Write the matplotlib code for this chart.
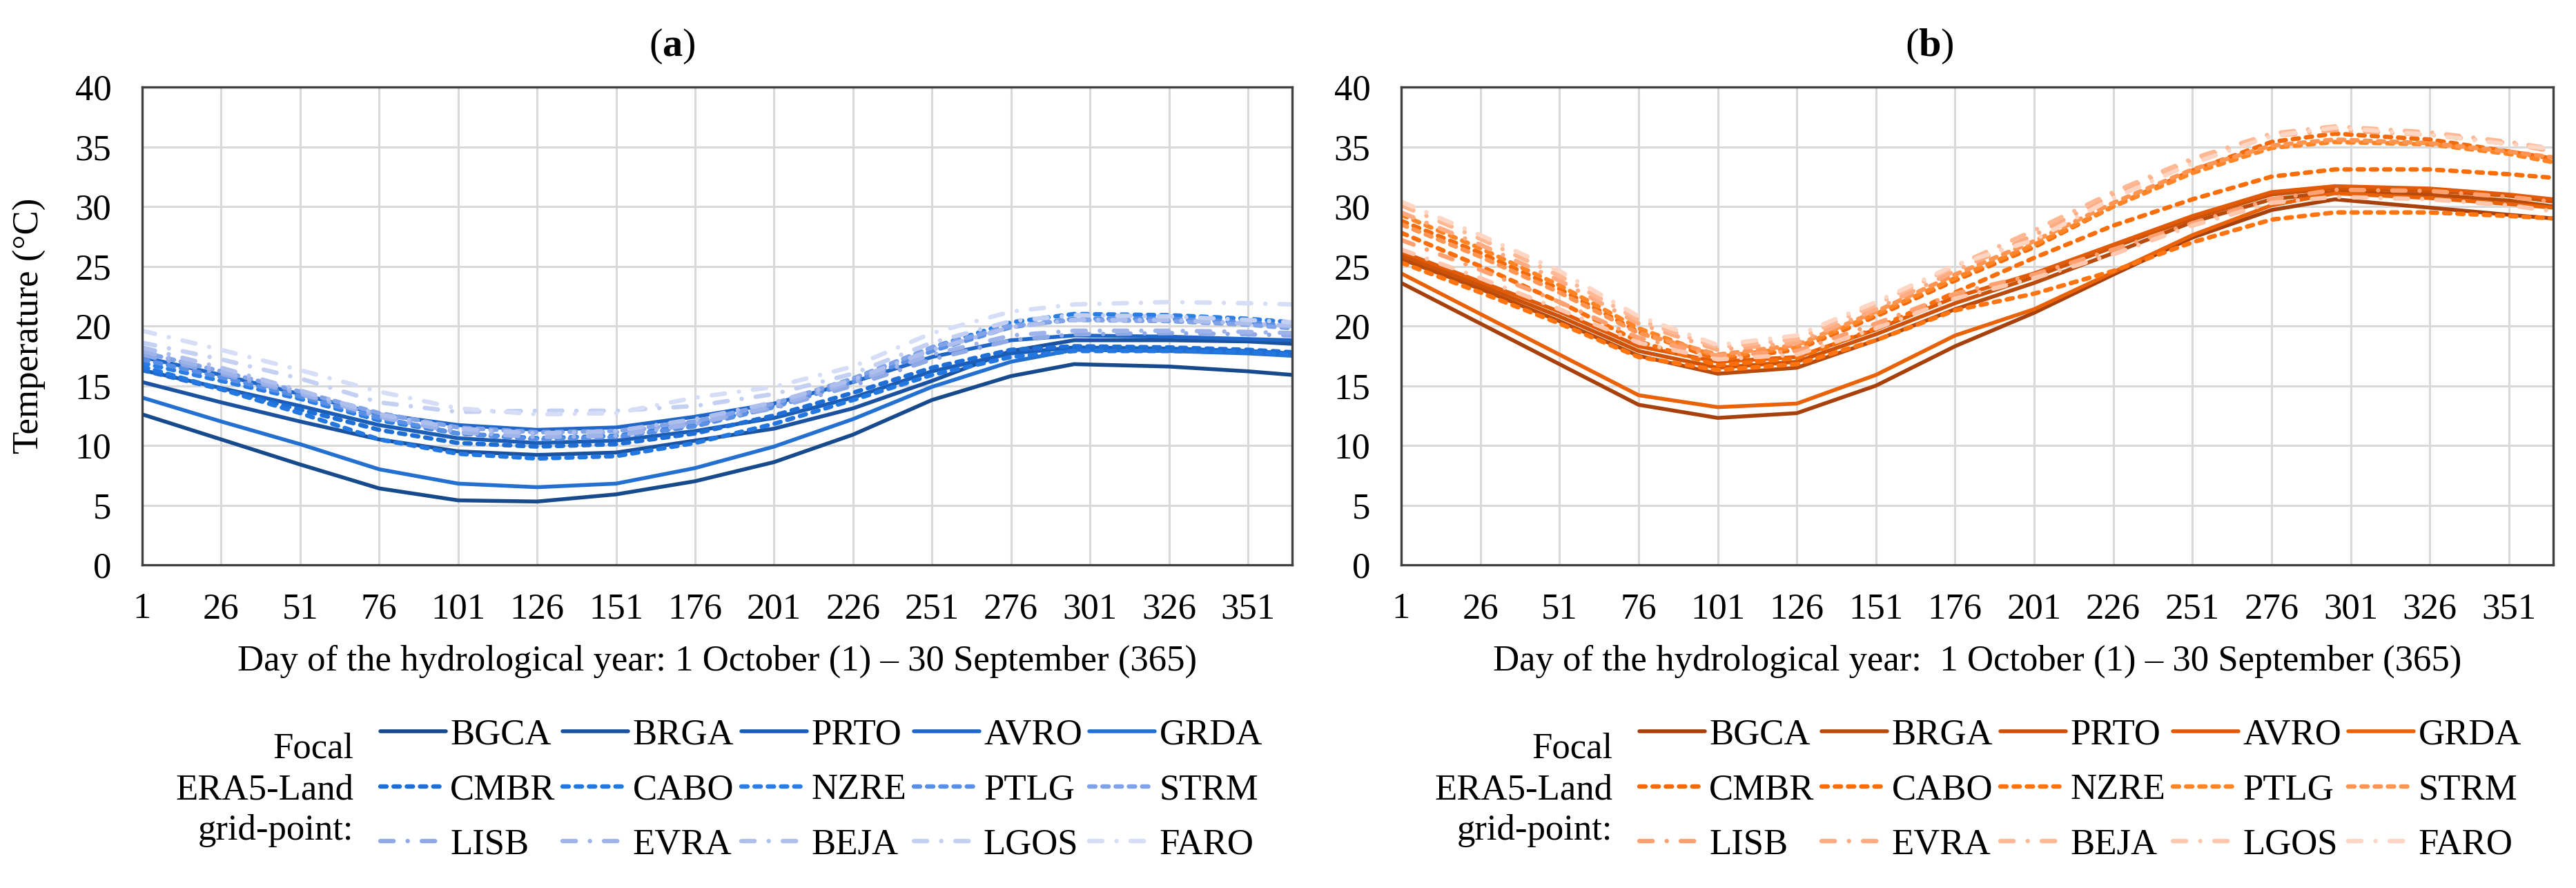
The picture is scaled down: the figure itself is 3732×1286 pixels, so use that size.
import matplotlib
matplotlib.use("Agg")
import matplotlib.pyplot as plt

# ---- data ----
days = [1, 26, 51, 76, 101, 126, 151, 176, 201, 226, 251, 276, 296, 326, 351, 365]
stations = ["BGCA", "BRGA", "PRTO", "AVRO", "GRDA",
            "CMBR", "CABO", "NZRE", "PTLG", "STRM",
            "LISB", "EVRA", "BEJA", "LGOS", "FARO"]

# panel (a)
a_bgca = [12.6, 10.5, 8.4, 6.4, 5.4, 5.3, 5.9, 7.0, 8.6, 10.9, 13.8, 15.8, 16.8, 16.6, 16.2, 15.9]
a_brga = [15.3, 13.6, 12.0, 10.5, 9.5, 9.2, 9.4, 10.4, 11.4, 13.1, 15.4, 17.9, 18.8, 18.8, 18.7, 18.5]
a_prto = [16.3, 14.8, 13.3, 11.7, 10.6, 10.2, 10.4, 11.2, 12.3, 14.0, 16.2, 17.7, 18.2, 18.1, 17.9, 17.7]
a_avro = [17.4, 15.9, 14.3, 12.6, 11.7, 11.3, 11.5, 12.4, 13.5, 15.3, 17.4, 18.8, 19.2, 19.1, 18.9, 18.8]
a_grda = [14.0, 12.0, 10.1, 8.0, 6.8, 6.5, 6.8, 8.1, 9.9, 12.2, 14.9, 17.0, 18.0, 17.9, 17.7, 17.5]
a_cmbr = [16.3, 14.7, 13.0, 11.3, 10.2, 9.9, 10.1, 11.0, 12.5, 14.4, 16.5, 18.0, 18.3, 18.2, 18.0, 17.8]
a_cabo = [16.6, 14.7, 12.7, 10.5, 9.3, 8.9, 9.1, 10.2, 11.8, 13.8, 15.9, 17.4, 17.9, 17.9, 17.8, 17.6]
a_nzre = [16.9, 15.4, 13.9, 12.1, 11.0, 10.6, 10.8, 11.7, 13.3, 15.5, 18.2, 20.3, 21.0, 20.9, 20.6, 20.3]
a_ptlg = [17.2, 15.7, 14.1, 12.3, 11.0, 10.5, 10.7, 11.6, 13.2, 15.3, 17.9, 19.9, 20.6, 20.6, 20.3, 20.0]
a_strm = [17.8, 16.2, 14.5, 12.7, 11.5, 11.1, 11.2, 12.0, 13.5, 15.6, 18.2, 20.0, 20.5, 20.4, 20.1, 19.8]
a_lisb = [17.6, 16.0, 14.3, 12.5, 11.4, 11.0, 11.1, 11.9, 13.1, 15.0, 17.2, 18.8, 19.3, 19.4, 19.3, 19.2]
a_evra = [17.9, 16.2, 14.4, 12.4, 11.1, 10.7, 10.8, 11.8, 13.3, 15.3, 17.6, 19.2, 19.6, 19.6, 19.5, 19.4]
a_beja = [18.2, 16.5, 14.6, 12.6, 11.4, 11.0, 11.2, 12.2, 13.6, 15.5, 18.0, 19.9, 20.5, 20.5, 20.2, 20.0]
a_lgos = [18.6, 17.2, 15.6, 13.6, 12.8, 12.9, 12.9, 13.3, 14.3, 16.0, 18.6, 20.4, 20.9, 20.8, 20.5, 20.3]
a_faro = [19.6, 18.0, 16.3, 14.5, 13.1, 12.6, 12.7, 14.0, 14.9, 16.6, 19.4, 21.2, 21.8, 22.0, 21.9, 21.8]

# panel (b)
b_bgca = [23.6, 20.2, 16.8, 13.4, 12.3, 12.7, 15.0, 18.3, 21.1, 24.3, 27.4, 29.7, 30.6, 29.9, 29.3, 29.0]
b_brga = [25.6, 23.1, 20.4, 17.5, 16.0, 16.5, 18.8, 21.4, 23.6, 26.1, 28.7, 30.6, 31.2, 31.0, 30.5, 30.0]
b_prto = [25.9, 23.4, 20.8, 17.9, 16.5, 17.0, 19.3, 21.9, 24.1, 26.6, 29.0, 31.0, 31.5, 31.3, 30.9, 30.4]
b_avro = [26.2, 23.7, 21.2, 18.3, 17.0, 17.4, 19.7, 22.4, 24.4, 26.8, 29.2, 31.2, 31.7, 31.5, 31.0, 30.6]
b_grda = [24.4, 21.0, 17.6, 14.2, 13.2, 13.5, 15.9, 19.2, 21.4, 24.5, 27.6, 30.1, 31.1, 30.7, 30.2, 29.9]
b_cmbr = [28.8, 26.1, 23.1, 19.5, 17.2, 18.0, 20.8, 23.8, 26.6, 30.0, 33.0, 35.4, 36.1, 35.6, 34.6, 34.0]
b_cabo = [27.8, 25.0, 22.0, 18.7, 16.7, 17.3, 19.8, 22.8, 25.7, 28.4, 30.6, 32.5, 33.1, 33.1, 32.7, 32.4]
b_nzre = [25.3, 22.8, 20.2, 17.4, 16.3, 16.8, 18.8, 21.3, 22.7, 24.6, 27.0, 28.9, 29.5, 29.5, 29.2, 29.0]
b_ptlg = [29.3, 26.5, 23.4, 19.8, 17.4, 18.2, 21.0, 24.0, 26.8, 30.0, 32.8, 34.9, 35.4, 35.2, 34.4, 33.7]
b_strm = [28.5, 25.8, 22.8, 19.4, 17.6, 18.4, 21.2, 24.3, 27.1, 30.3, 33.1, 35.1, 35.6, 35.3, 34.6, 34.1]
b_lisb = [27.2, 24.7, 22.0, 19.0, 17.5, 17.9, 20.2, 22.7, 24.3, 26.4, 28.6, 30.6, 31.4, 31.3, 30.8, 30.4]
b_evra = [29.5, 26.8, 23.8, 20.2, 18.0, 18.6, 21.4, 24.6, 27.6, 31.0, 33.9, 35.9, 36.4, 36.0, 35.3, 34.6]
b_beja = [30.1, 27.3, 24.2, 20.5, 18.2, 18.9, 21.8, 25.0, 28.0, 31.2, 34.0, 36.1, 36.7, 36.2, 35.4, 34.8]
b_lgos = [26.4, 24.0, 21.4, 18.6, 17.2, 17.6, 19.8, 22.3, 24.0, 26.0, 28.4, 30.3, 30.8, 30.6, 30.1, 29.6]
b_faro = [30.4, 27.6, 24.6, 20.8, 18.4, 19.2, 22.0, 25.1, 27.2, 30.7, 33.6, 35.9, 36.6, 36.0, 35.2, 34.8]

series_a = [a_bgca, a_brga, a_prto, a_avro, a_grda, a_cmbr, a_cabo, a_nzre,
            a_ptlg, a_strm, a_lisb, a_evra, a_beja, a_lgos, a_faro]
series_b = [b_bgca, b_brga, b_prto, b_avro, b_grda, b_cmbr, b_cabo, b_nzre,
            b_ptlg, b_strm, b_lisb, b_evra, b_beja, b_lgos, b_faro]

blues = ['#174a8c', '#1a52a0', '#1b5cb5', '#1f66c7', '#2470d1',
         '#1f6ed6', '#2277e0', '#2b7de6', '#5a8fe6', '#7fa2e8',
         '#8fa8e6', '#9db3ea', '#aebfee', '#c4d0f2', '#d6ddf6']
oranges = ['#a8400b', '#b84a0c', '#cc5209', '#e05a07', '#ea6208',
           '#f26a0a', '#fa6e0a', '#ff740f', '#ff8426', '#ff9552',
           '#ffa070', '#ffab82', '#ffb894', '#ffc7ad', '#ffd6c4']

styles = ['-'] * 5 + [(0, (1.4, 1.6))] * 5 + [(0, (3.0, 3.2, 0.01, 3.2))] * 5
widths = [4.0] * 5 + [4.6] * 10

plt.rcParams['font.family'] = ['Liberation Serif', 'DejaVu Serif']
plt.rcParams['mathtext.fontset'] = 'custom'
plt.rcParams['mathtext.rm'] = 'Liberation Serif'
plt.rcParams['mathtext.bf'] = 'Liberation Serif:bold'

FS = 38
fig = plt.figure(figsize=(37.32, 12.86), dpi=100)

ax_a = fig.add_axes([206 / 3732, 1 - 818 / 1286, 1666 / 3732, 692 / 1286])
ax_b = fig.add_axes([2030 / 3732, 1 - 818 / 1286, 1669 / 3732, 692 / 1286])


def draw_panel(ax, series, colors, xlabel):
    handles = []
    for name, vals, c, ls, lw in zip(stations, series, colors, styles, widths):
        ln, = ax.plot(days, vals, color=c, lw=lw, linestyle=ls,
                      solid_capstyle='round', dash_capstyle='round',
                      solid_joinstyle='round', label=name)
        handles.append(ln)
    ax.set_xlim(1, 365)
    ax.set_ylim(0, 40)
    ax.set_xticks(range(1, 365, 25))
    ax.set_yticks(range(0, 41, 5))
    ax.grid(True, color='#d9d9d9', lw=2.2)
    ax.set_axisbelow(True)
    for s in ax.spines.values():
        s.set_color('#404040')
        s.set_linewidth(2.4)
    ax.tick_params(length=0, labelsize=FS)
    ax.tick_params(axis='x', pad=29)
    ax.tick_params(axis='y', pad=32)
    ax.set_xlabel(xlabel, fontsize=FS, labelpad=20)
    return handles


h_a = draw_panel(ax_a, series_a, blues,
                 'Day of the hydrological year: 1 October (1) \u2013 30 September (365)')
h_b = draw_panel(ax_b, series_b, oranges,
                 'Day of the hydrological year:  1 October (1) \u2013 30 September (365)')
ax_a.set_ylabel('Temperature (\u00b0C)', fontsize=FS, labelpad=30)

fig.text(974 / 3732, 1 - 67 / 1286, r'($\mathbf{a}$)', fontsize=42, ha='center', va='center')
fig.text(2795 / 3732, 1 - 67 / 1286, r'($\mathbf{b}$)', fontsize=42, ha='center', va='center')


def add_legend(handles, x_text, x_leg):
    order = [r * 5 + c for c in range(5) for r in range(3)]
    hs = [handles[i] for i in order]
    labels = [stations[i] for i in order]
    fig.legend(hs, labels, ncol=5, loc='center left',
               bbox_to_anchor=(x_leg / 3732, 1 - 1144 / 1286),
               frameon=False, fontsize=FS, handlelength=1.8, handletextpad=0.12,
               columnspacing=0.2, labelspacing=0.6, borderaxespad=0, borderpad=0)
    fig.text(x_text / 3732, 1 - 1144 / 1286, 'Focal\nERA5-Land\ngrid-point:',
             fontsize=FS, ha='right', va='center', linespacing=1.3)


add_legend(h_a, 512, 551)
add_legend(h_b, 2336, 2375)

fig.savefig('out.png', dpi=100)
